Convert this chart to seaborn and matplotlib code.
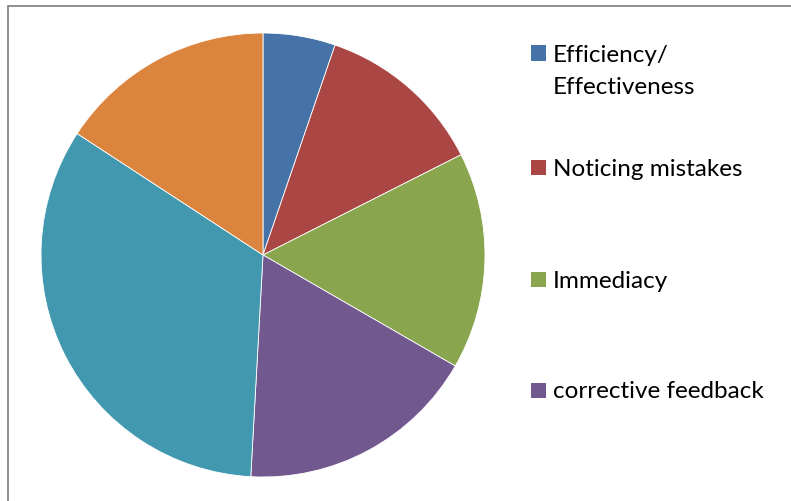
import matplotlib
matplotlib.use("Agg")
import matplotlib.pyplot as plt
from matplotlib.patches import Rectangle
from matplotlib.lines import Line2D
import seaborn as sns

sns.set_theme(style="white")
plt.rcParams["font.family"] = ["Lato", "DejaVu Sans"]

categories = ["Efficiency/\nEffectiveness", "Noticing mistakes", "Immediacy",
              "corrective feedback", "Category 5", "Category 6"]
values = [3, 7, 9, 10, 19, 9]
colors = ["#4572A7", "#AA4643", "#89A54E", "#71588F", "#4198AF", "#DB843D"]
legend_shown = 4

W, H = 791, 501
fig = plt.figure(figsize=(W / 100, H / 100), dpi=100)
fig.patch.set_facecolor("white")

palette = sns.color_palette(colors)

# pie area in pixel terms: centre (263, 255), radius 222
cx, cy, r = 263, 255, 222
ax = fig.add_axes([(cx - r) / W, (H - cy - r) / H, 2 * r / W, 2 * r / H])
ax.pie(values, colors=palette, startangle=90, counterclock=False,
       radius=1, wedgeprops=dict(edgecolor="white", linewidth=0.6))
ax.set_xlim(-1, 1)
ax.set_ylim(-1, 1)
ax.set_aspect("auto")
ax.axis("off")

# outer frame lines (top and left)
fig.add_artist(Line2D([7.5 / W, 1], [1 - 5.5 / H, 1 - 5.5 / H],
                      transform=fig.transFigure, color="#878787", lw=1.3))
fig.add_artist(Line2D([7.5 / W, 7.5 / W], [0, 1 - 5.5 / H],
                      transform=fig.transFigure, color="#878787", lw=1.3))

# legend
entry_y = [53, 167, 279, 390]
line_gap = 33
sq = 15
for i in range(legend_shown):
    y = entry_y[i]
    fig.add_artist(Rectangle((531 / W, (H - y - sq / 2) / H), sq / W, sq / H,
                             transform=fig.transFigure, facecolor=palette[i],
                             edgecolor="none"))
    for k, line in enumerate(categories[i].split("\n")):
        fig.text(553 / W, (H - y - k * line_gap) / H, line,
                 transform=fig.transFigure, fontsize=17.5, color="black",
                 va="center_baseline")

fig.savefig("out.png", dpi=100)
